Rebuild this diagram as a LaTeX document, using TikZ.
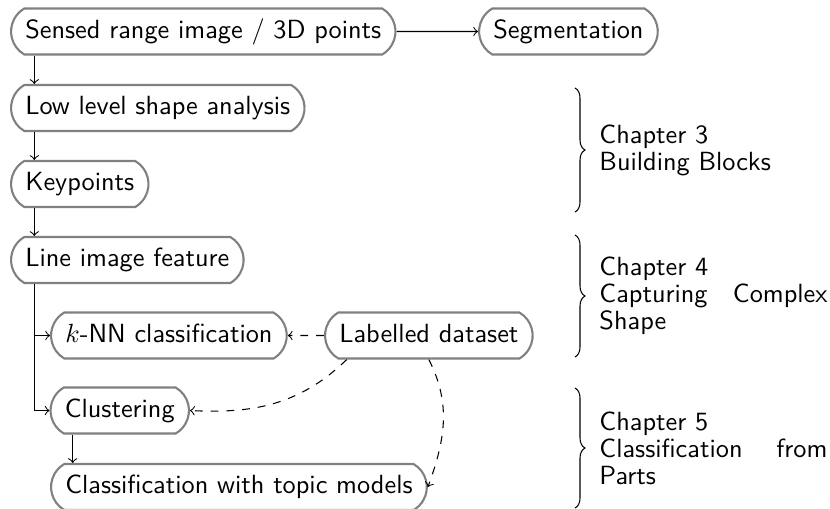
\documentclass[tikz,border=0pt]{standalone}
\usetikzlibrary{decorations.pathreplacing,calc,shapes.misc}
\begin{document}
\begin{tikzpicture}[x=0.38023pt,y=-0.38023pt, font=\sffamily,
  box/.style={rounded rectangle, rounded rectangle arc length=120, draw=black!50, line width=0.8pt,
    minimum height=17.5pt, inner xsep=4.35pt, text height=7pt, text depth=2pt, anchor=west},
  conn/.style={->},
  dconn/.style={->,dashed},
  chbrace/.style={decorate, decoration={brace, amplitude=3.8pt}},
  chap/.style={anchor=west, xshift=9.1pt, inner sep=0pt, text width=86.7pt, align=justify,
    font=\sffamily\fontsize{10}{10.3}\selectfont}]
\useasboundingbox (0,0) rectangle (830,508);

\node[box] (sensed) at (10,31.5) {Sensed range image / 3D points};
\node[box] (seg) at (478,31.5) {Segmentation};
\node[box] (low) at (10,108) {Low level shape analysis};
\node[box] (key) at (10,184) {Keypoints};
\node[box] (line) at (10,260) {Line image feature};
\node[box] (knn) at (50,335.5) {$k$-NN classification};
\node[box] (lab) at (324,335.5) {Labelled dataset};
\node[box] (clus) at (49.5,410.5) {Clustering};
\node[box] (cls) at (50,487) {Classification with topic models};

\coordinate (colA) at (34.3,0);
\coordinate (colB) at (72.7,0);
\coordinate (colC) at (346.7,0);

\draw[conn] (sensed) -- (seg);
\draw[conn] (sensed.south -| colA) -- (low.north -| colA);
\draw[conn] (low.south -| colA) -- (key.north -| colA);
\draw[conn] (key.south -| colA) -- (line.north -| colA);
\draw[conn] (line.south -| colA) |- (knn.west);
\draw[conn] (line.south -| colA) |- (clus.west);
\draw[conn] (clus.south -| colB) -- (cls.north -| colB);

\draw[dconn] (lab) -- (knn);
\draw[dconn] (lab.south -| colC) to[out=-136,in=-3] (clus.east);
\draw[dconn] (lab.south) to[out=-63,in=70] (cls.east);

\draw[chbrace] (575,88) -- node[chap] {Chapter 3\\Building Blocks} (575,212);
\draw[chbrace] (575,235) -- node[chap] {Chapter 4\\Capturing Complex Shape} (575,357);
\draw[chbrace] (575,388) -- node[chap] {Chapter 5\\Classification from Parts} (575,508);
\end{tikzpicture}
\end{document}
